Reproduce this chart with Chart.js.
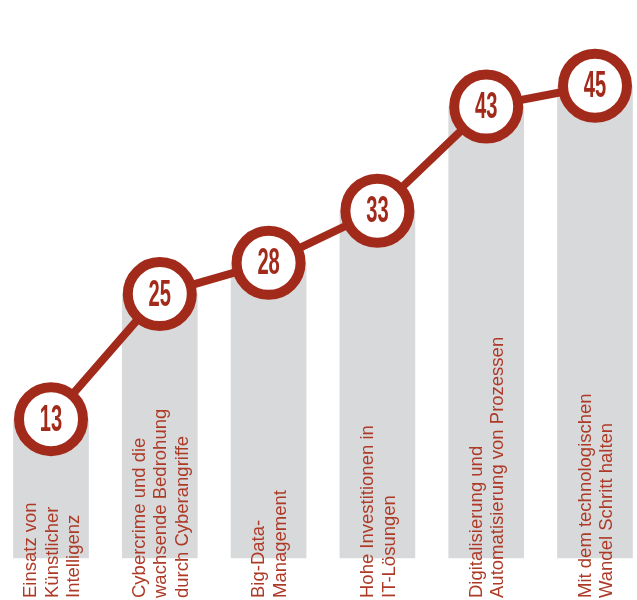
<!DOCTYPE html>
<html>
<head>
<meta charset="utf-8">
<script src="https://cdn.jsdelivr.net/npm/chart.js@4"></script>
<style>
  html, body { margin: 0; padding: 0; background: #ffffff; }
  #wrap { position: relative; width: 637px; height: 600px; }
</style>
</head>
<body>
<div id="wrap"><canvas id="c" width="637" height="600"></canvas></div>
<script>
// ---- data ----
const categories = [
  ["Einsatz von", "Künstlicher", "Intelligenz"],
  ["Cybercrime und die", "wachsende Bedrohung", "durch Cyberangriffe"],
  ["Big-Data-", "Management"],
  ["Hohe Investitionen in", "IT-Lösungen"],
  ["Digitalisierung und", "Automatisierung von Prozessen"],
  ["Mit dem technologischen", "Wandel Schritt halten"]
];
const values = [13, 25, 28, 33, 43, 45];

// ---- styles ----
const RED = '#a22a1a';
const LABEL_RED = '#ad3a27';
const GRAY = '#d8d9db';
const Y_MIN = -0.33, Y_MAX = 49.2;

const labelPlugin = {
  id: 'barLabels',
  afterDatasetsDraw(chart) {
    const ctx = chart.ctx;
    const xs = chart.scales.x;
    const lineH = 21.5;
    ctx.save();
    ctx.font = '18.5px "Liberation Sans", Arial, sans-serif';
    ctx.fillStyle = LABEL_RED;
    ctx.textAlign = 'left';
    ctx.textBaseline = 'alphabetic';
    categories.forEach((lines, i) => {
      const cx = xs.getPixelForValue(i);
      const n = lines.length;
      lines.forEach((ln, j) => {
        const capCenter = cx + (j - (n - 1) / 2) * lineH;
        ctx.save();
        ctx.translate(capCenter + 6.5, 598);
        ctx.rotate(-Math.PI / 2);
        ctx.fillText(ln, 0, 0);
        ctx.restore();
      });
    });
    ctx.restore();
  }
};

const numberPlugin = {
  id: 'circleNumbers',
  afterDraw(chart) {
    const ctx = chart.ctx;
    const meta = chart.getDatasetMeta(0);
    ctx.save();
    ctx.fillStyle = RED;
    ctx.font = 'bold 36px "Liberation Sans", Arial, sans-serif';
    ctx.textAlign = 'center';
    ctx.textBaseline = 'alphabetic';
    meta.data.forEach((pt, i) => {
      ctx.save();
      ctx.translate(pt.x, pt.y + 11.5);
      ctx.scale(0.56, 1);
      ctx.fillText(String(values[i]), 0, 0);
      ctx.restore();
    });
    ctx.restore();
  }
};

new Chart(document.getElementById('c'), {
  type: 'bar',
  data: {
    labels: categories,
    datasets: [
      {
        type: 'line',
        data: values,
        order: 1,
        borderColor: RED,
        borderWidth: 8,
        tension: 0,
        pointRadius: 32,
        pointHoverRadius: 32,
        pointBorderWidth: 10,
        pointBorderColor: RED,
        pointBackgroundColor: '#ffffff',
        clip: false
      },
      {
        type: 'bar',
        data: values,
        order: 2,
        backgroundColor: GRAY,
        barThickness: 75,
        base: Y_MIN,
        clip: false
      }
    ]
  },
  options: {
    responsive: false,
    animation: false,
    layout: { padding: { left: 51, right: 42, top: 0, bottom: 0 } },
    scales: {
      x: { display: false, offset: false, grid: { offset: false } },
      y: { display: false, min: Y_MIN, max: Y_MAX }
    },
    plugins: { legend: { display: false }, tooltip: { enabled: false } }
  },
  plugins: [labelPlugin, numberPlugin]
});
</script>
</body>
</html>
